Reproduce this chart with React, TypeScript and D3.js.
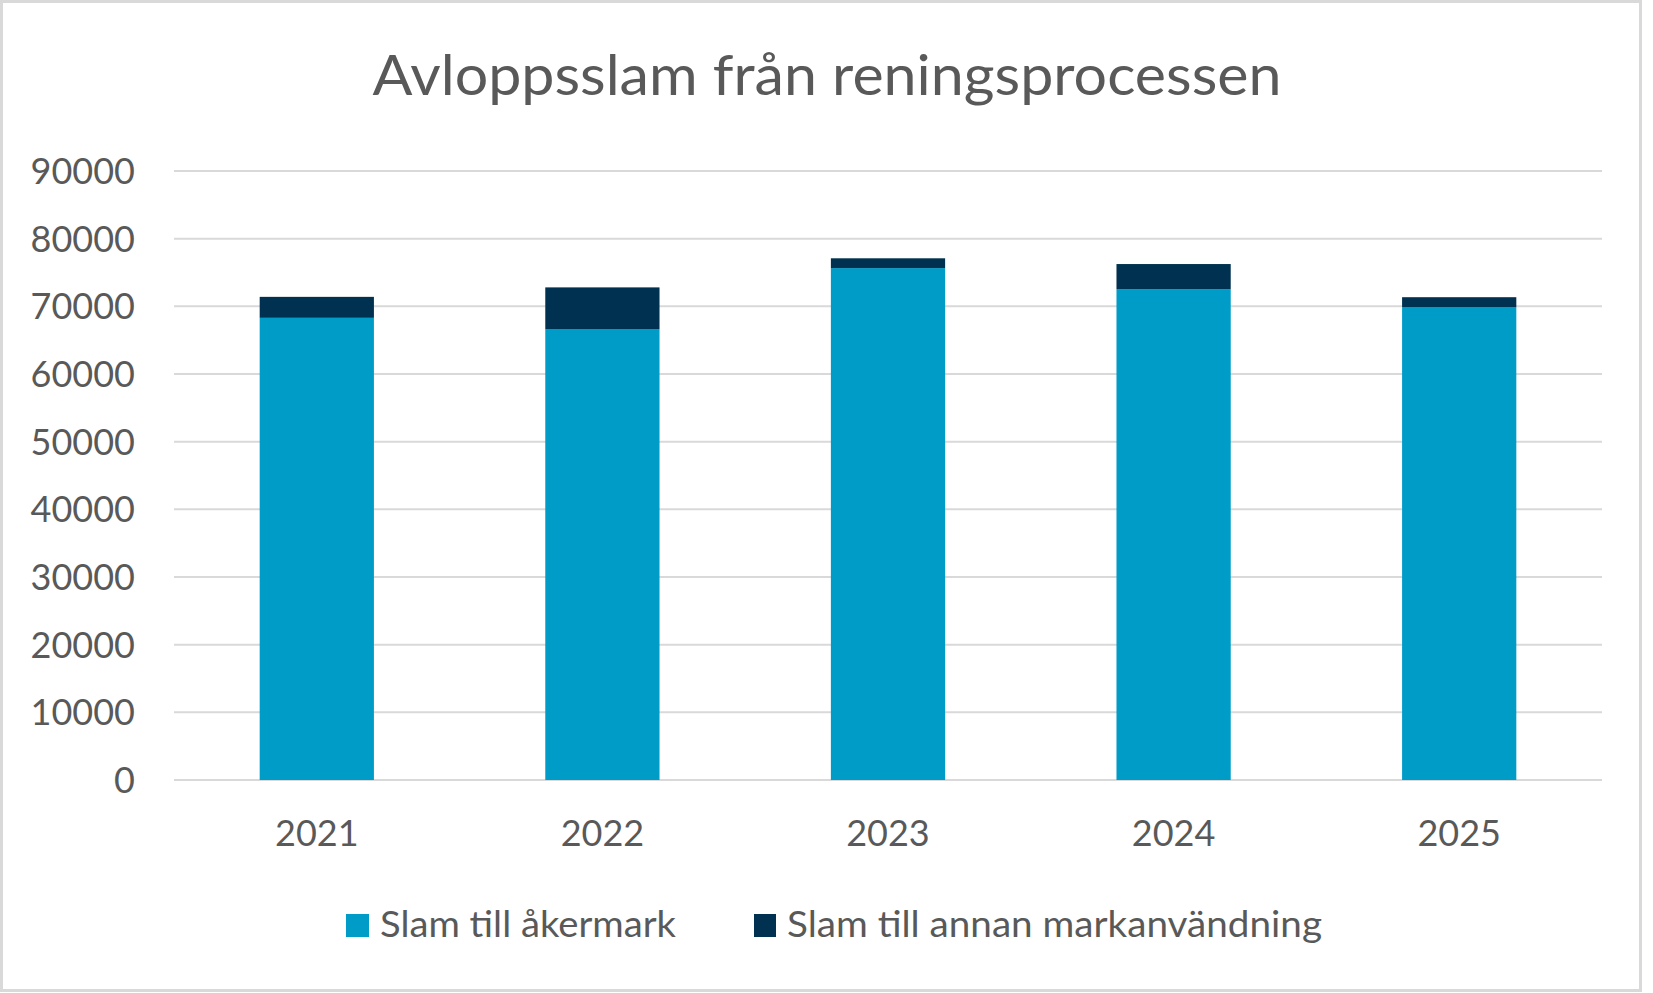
import * as d3 from 'd3';

const years = ['2021', '2022', '2023', '2024', '2025'];
const akermark = [68300, 66650, 75650, 72550, 69900];
const annan = [3100, 6150, 1450, 3700, 1450];
const yTicks = [0, 10000, 20000, 30000, 40000, 50000, 60000, 70000, 80000, 90000];
const seriesNames = ['Slam till åkermark', 'Slam till annan markanvändning'];

const W = 1653;
const H = 993;
const FONT = 'Lato, "Open Sans", sans-serif';
const TEXT = '#595959';
const GRID = '#d9d9d9';
const COLORS = ['#009cc8', '#003150'];

export default function App() {
  const margin = { top: 171, right: 51, bottom: 213, left: 174 };

  const x = d3.scaleBand<string>()
    .domain(years)
    .range([margin.left, W - margin.right])
    .paddingInner(0.6)
    .paddingOuter(0.3);

  const y = d3.scaleLinear()
    .domain([0, 90000])
    .range([H - margin.bottom, margin.top]);

  const rows = years.map((yr, i) => ({ year: yr, akermark: akermark[i], annan: annan[i] }));
  const stacked = d3.stack<any>().keys(['akermark', 'annan'])(rows);

  return (
    <div style={{ position: 'absolute', left: 0, top: 0 }}>
      <svg width={W} height={H} style={{ display: 'block', fontFamily: FONT }}>
        <rect x={0} y={0} width={W} height={H} fill="#fff" />
        <rect x={1.5} y={1.5} width={1639} height={989} fill="none" stroke={GRID} strokeWidth={3} />

        <text x={827} y={95} textAnchor="middle" fontSize={56} fill={TEXT}
          textLength={909} lengthAdjust="spacingAndGlyphs">
          Avloppsslam från reningsprocessen
        </text>

        {/* gridlines + y labels */}
        {yTicks.map(t => (
          <g key={t}>
            <line x1={margin.left} x2={W - margin.right} y1={y(t)} y2={y(t)} stroke={GRID} strokeWidth={2} />
            <text x={135} y={y(t)} dy="0.36em" textAnchor="end" fontSize={36} fill={TEXT}>{t}</text>
          </g>
        ))}

        {/* bars */}
        {stacked.map((s, si) => (
          <g key={s.key} fill={COLORS[si]}>
            {s.map((d: any) => (
              <rect key={d.data.year}
                x={x(d.data.year)}
                y={y(d[1])}
                width={x.bandwidth()}
                height={y(d[0]) - y(d[1])} />
            ))}
          </g>
        ))}

        {/* x labels */}
        {years.map(yr => (
          <text key={yr} x={(x(yr) as number) + x.bandwidth() / 2} y={846} textAnchor="middle"
            fontSize={36} fill={TEXT}>{yr}</text>
        ))}

        {/* legend */}
        <g>
          <rect x={346} y={914} width={23} height={23} fill={COLORS[0]} />
          <text x={380} y={937} fontSize={36} fill={TEXT} textLength={296} lengthAdjust="spacingAndGlyphs">
            {seriesNames[0]}
          </text>
          <rect x={754} y={914} width={22} height={23} fill={COLORS[1]} />
          <text x={787} y={937} fontSize={36} fill={TEXT} textLength={535} lengthAdjust="spacingAndGlyphs">
            {seriesNames[1]}
          </text>
        </g>
      </svg>
    </div>
  );
}
